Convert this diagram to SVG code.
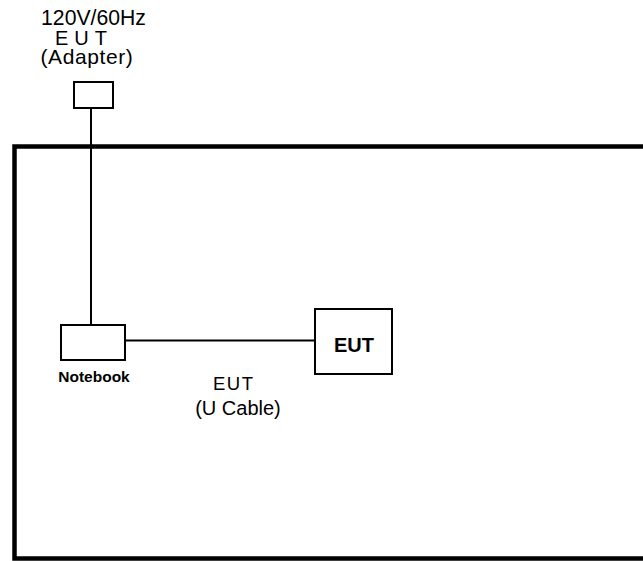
<svg xmlns="http://www.w3.org/2000/svg" width="643" height="561" viewBox="0 0 643 561">
<style>
.box{fill:#fff;stroke:#000;stroke-width:2}
.wire{fill:none;stroke:#000;stroke-width:2}
.t{font-family:"Liberation Sans",Arial,sans-serif;fill:#000;text-anchor:middle}
.s{text-anchor:start}
</style>
<rect width="643" height="561" fill="#fff"/>
<g id="room">
<path d="M 650 146.5 H 14.5 V 558.5 H 650" fill="none" stroke="#000" stroke-width="4.5"/>
</g>
<g id="connectors">
<line class="wire" x1="91" y1="108" x2="91" y2="325"/>
<line class="wire" x1="125" y1="340.5" x2="315" y2="340.5"/>
</g>
<g id="adapter">
<text class="t" x="93.5" y="25" font-size="21.2">120V/60Hz</text>
<text class="t s" x="55" y="44.5" font-size="20" letter-spacing="6">EUT</text>
<text class="t" x="87" y="64" font-size="21" letter-spacing="0.6">(Adapter)</text>
<rect class="box" x="74" y="82" width="39" height="26"/>
</g>
<g id="notebook">
<rect class="box" x="61" y="325" width="64" height="35"/>
<text class="t" x="94" y="382" font-size="15.5" font-weight="bold">Notebook</text>
</g>
<g id="eut">
<rect class="box" x="315" y="309" width="77" height="65"/>
<text class="t" x="354" y="351.5" font-size="20" font-weight="bold">EUT</text>
</g>
<g id="cable-label">
<text class="t s" x="213" y="390" font-size="18.5" letter-spacing="1.5">EUT</text>
<text class="t" x="238" y="415" font-size="20">(U Cable)</text>
</g>
</svg>
